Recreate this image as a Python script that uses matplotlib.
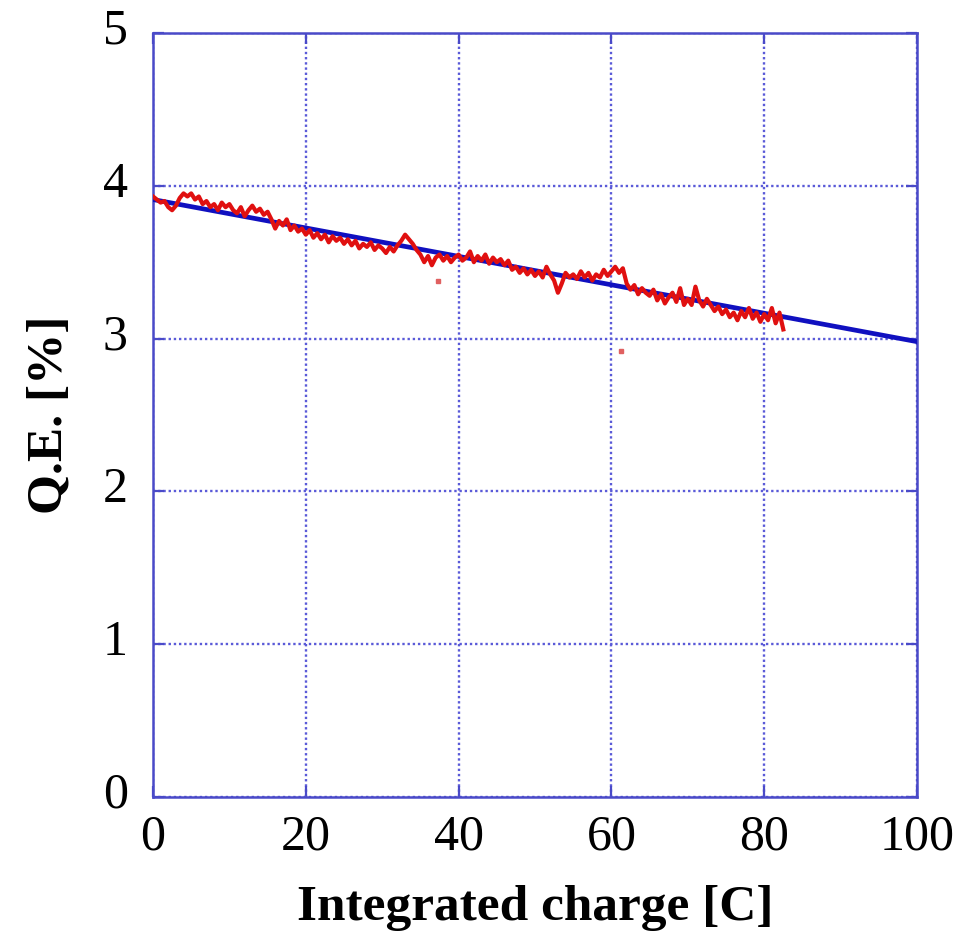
import numpy as np
import matplotlib.pyplot as plt
import matplotlib.transforms as mtransforms

plt.rcParams['font.family'] = ['Liberation Serif', 'DejaVu Serif']

# measured Q.E. vs integrated charge, one reading every 0.5 C
charge = np.arange(0, 83, 0.5)
qe = [
    3.93, 3.91, 3.89, 3.90, 3.86, 3.84, 3.87, 3.92, 3.95, 3.93,
    3.95, 3.91, 3.93, 3.88, 3.90, 3.86, 3.88, 3.84, 3.89, 3.86,
    3.88, 3.84, 3.82, 3.86, 3.80, 3.84, 3.87, 3.83, 3.85, 3.81,
    3.83, 3.78, 3.72, 3.77, 3.74, 3.78, 3.71, 3.74, 3.70, 3.72,
    3.68, 3.71, 3.66, 3.69, 3.65, 3.68, 3.63, 3.67, 3.64, 3.66,
    3.62, 3.65, 3.61, 3.64, 3.59, 3.62, 3.60, 3.63, 3.58, 3.61,
    3.59, 3.56, 3.60, 3.57, 3.61, 3.64, 3.68, 3.65, 3.62, 3.58,
    3.55, 3.50, 3.54, 3.48, 3.53, 3.55, 3.51, 3.54, 3.50, 3.53,
    3.55, 3.51, 3.53, 3.57, 3.50, 3.54, 3.51, 3.55, 3.49, 3.53,
    3.50, 3.52, 3.48, 3.51, 3.45, 3.47, 3.43, 3.46, 3.42, 3.45,
    3.41, 3.44, 3.40, 3.47, 3.42, 3.38, 3.30, 3.36, 3.43, 3.40,
    3.42, 3.39, 3.44, 3.40, 3.43, 3.38, 3.42, 3.40, 3.45, 3.41,
    3.44, 3.47, 3.43, 3.46, 3.36, 3.32, 3.35, 3.29, 3.33, 3.30,
    3.28, 3.32, 3.25, 3.29, 3.23, 3.27, 3.30, 3.24, 3.33, 3.22,
    3.26, 3.22, 3.34, 3.25, 3.21, 3.26, 3.22, 3.18, 3.21, 3.16,
    3.19, 3.14, 3.17, 3.12, 3.18, 3.14, 3.20, 3.13, 3.17, 3.11,
    3.16, 3.12, 3.20, 3.10, 3.17, 3.06,
]

# a few isolated readings
stray_x = [37.3, 61.3]
stray_y = [3.38, 2.92]

# linear fit extended to 100 C
fit_x = [0, 100]
fit_y = [3.91, 2.98]

xticks = [0, 20, 40, 60, 80, 100]
yticks = [0, 1, 2, 3, 4, 5]

frame = '#4a4ac8'

fig = plt.figure(figsize=(9.58, 9.31), dpi=100)
ax = fig.add_axes([0.1597, 0.1439, 0.7975, 0.8207])

ax.plot(fit_x, fit_y, color='#1010c0', lw=3.4, zorder=3)
ax.plot(charge, qe, color='#e01010', lw=3.0, zorder=4)
ax.plot(stray_x, stray_y, ls='none', marker='s', ms=2.5, color='#e06060', zorder=4)

ax.set_xlim(0, 100)
ax.set_ylim(0, 5)
ax.set_xticks(xticks)
ax.set_yticks(yticks)

ax.grid(True, color='#5a5ad8', ls=(0, (1, 1.2)), lw=1.7)
for s in ax.spines.values():
    s.set_color(frame)
    s.set_linewidth(1.8)
ax.tick_params(direction='in', length=8, width=1.6, color=frame,
               labelsize=36, top=True, right=True)
ax.tick_params(axis='x', pad=12)
ax.tick_params(axis='y', pad=18)

# y labels sit a little above their ticks
shift = mtransforms.ScaledTranslation(0, 0.07, fig.dpi_scale_trans)
for lab in ax.get_yticklabels():
    lab.set_transform(lab.get_transform() + shift)

ax.set_xlabel('Integrated charge [C]', fontsize=37, fontweight='bold', labelpad=18)
ax.set_ylabel('Q.E. [%]', fontsize=37, fontweight='bold', labelpad=22)

fig.savefig('out.png', dpi=100)
